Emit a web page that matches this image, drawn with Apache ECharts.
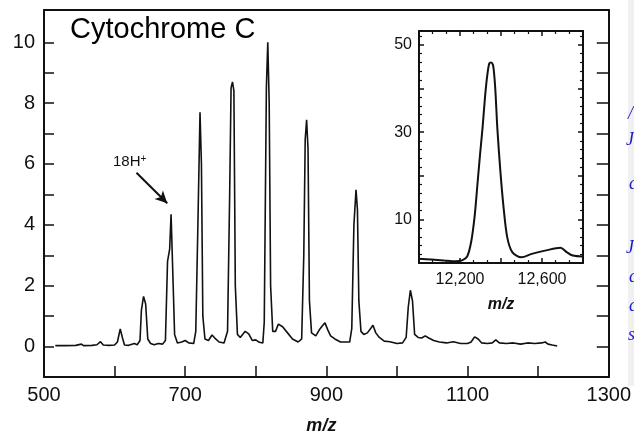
<!DOCTYPE html>
<html lang="en">
<head>
    <meta charset="UTF-8">
    <title>Cytochrome C</title>
    <script src="https://cdn.jsdelivr.net/npm/echarts@6/dist/echarts.min.js"></script>
    <style>
        html, body { margin: 0; padding: 0; background: #fff; }
        #chart { width: 634px; height: 440px; }
    </style>
</head>
<body>
<div id="chart"></div>
<script>
// main spectrum (m/z, relative intensity)
var mz = [516, 530, 545, 553, 556, 568, 575, 580, 584, 592, 600, 604, 608, 611, 614, 620, 628, 632, 636, 638, 641, 644, 647, 651, 656, 662, 668, 672, 675, 678, 680, 683, 685, 689, 695, 700, 705, 712, 715, 718, 721, 723, 725, 728, 733, 738, 742, 748, 755, 760, 763, 765, 767, 769, 771, 774, 778, 785, 790, 795, 800, 805, 810, 812, 815, 817, 819, 821, 824, 828, 832, 838, 845, 852, 860, 865, 868, 870, 872, 874, 876, 879, 885, 890, 895, 898, 902, 906, 912, 920, 928, 933, 936, 939, 942, 944, 946, 949, 953, 958, 963, 966, 970, 975, 982, 990, 1000, 1008, 1013, 1016, 1019, 1022, 1025, 1030, 1035, 1040, 1045, 1052, 1060, 1070, 1080, 1090, 1100, 1105, 1110, 1115, 1120, 1128, 1135, 1140, 1145, 1155, 1165, 1175, 1185, 1195, 1205, 1210, 1214, 1220, 1227];
var intensity = [0.03, 0.03, 0.04, 0.08, 0.03, 0.04, 0.06, 0.16, 0.05, 0.04, 0.05, 0.15, 0.58, 0.3, 0.05, 0.04, 0.1, 0.06, 0.2, 1.2, 1.65, 1.4, 0.25, 0.1, 0.06, 0.1, 0.08, 0.2, 2.8, 3.2, 4.35, 2.0, 0.4, 0.12, 0.15, 0.2, 0.12, 0.1, 0.5, 4.0, 7.7, 6.0, 1.0, 0.25, 0.2, 0.38, 0.28, 0.15, 0.12, 0.5, 5.0, 8.5, 8.7, 8.4, 2.0, 0.4, 0.3, 0.5, 0.42, 0.2, 0.22, 0.14, 0.12, 0.8, 8.5, 10.0, 8.0, 2.0, 0.5, 0.5, 0.74, 0.65, 0.45, 0.25, 0.15, 0.25, 3.0, 6.8, 7.45, 6.5, 1.5, 0.45, 0.35, 0.55, 0.7, 0.78, 0.55, 0.35, 0.25, 0.15, 0.15, 0.15, 0.6, 4.0, 5.15, 4.5, 1.5, 0.5, 0.4, 0.45, 0.6, 0.7, 0.45, 0.3, 0.18, 0.16, 0.1, 0.12, 0.3, 1.3, 1.85, 1.5, 0.4, 0.3, 0.28, 0.35, 0.28, 0.2, 0.15, 0.12, 0.16, 0.1, 0.1, 0.15, 0.32, 0.25, 0.12, 0.1, 0.12, 0.22, 0.12, 0.1, 0.12, 0.08, 0.12, 0.1, 0.12, 0.15, 0.08, 0.05, 0.02];

// inset: deconvoluted mass spectrum
var insetMz = [12000, 12060, 12120, 12180, 12210, 12235, 12255, 12272, 12285, 12298, 12310, 12322, 12333, 12343, 12352, 12362, 12372, 12382, 12397, 12412, 12430, 12455, 12500, 12550, 12620, 12690, 12720, 12750, 12800];
var insetIntensity = [1.0, 0.8, 0.6, 0.4, 0.6, 1.5, 5, 11, 18, 25, 31, 38, 43, 45.8, 46, 45.2, 40, 31, 21, 13, 6, 2.5, 1.3, 2.1, 2.9, 3.5, 2.5, 1.7, 1.5];

var yTicks = [0, 1, 2, 3, 4, 5, 6, 7, 8, 9, 10];
var yLabels = [0, 2, 4, 6, 8, 10];
var xLabels = [500, 700, 900, 1100, 1300];
var insetXLabels = [12200, 12600];
var insetYLabels = [10, 30, 50];

// arrow pointing at the 18H+ peak
var arrowFrom = [631, 5.71];
var arrowTo = [674.6, 4.71];

var FONT = 'Liberation Sans';
var INK = '#111';

var mainData = mz.map(function (m, i) { return [m, intensity[i]]; });
var insetData = insetMz.map(function (m, i) { return [m, insetIntensity[i]]; });

var chart = echarts.init(document.getElementById('chart'));

var frameLine = {onZero: false, lineStyle: {color: INK, width: 2}};

var option = {
    animation: false,
    backgroundColor: '#fff',
    grid: [
        {left: 44, top: 10, width: 566, height: 374},
        {left: 419, top: 31, width: 164, height: 232, backgroundColor: '#fff', show: true, borderWidth: 0}
    ],
    xAxis: [
        {
            gridIndex: 0, type: 'value', min: 500, max: 1300, interval: 100, position: 'bottom',
            axisLine: frameLine,
            axisTick: {inside: true, length: 11, lineStyle: {color: INK, width: 1.5}},
            axisLabel: {
                margin: 8, color: INK, fontFamily: FONT, fontSize: 20,
                formatter: function (v) { return xLabels.indexOf(v) >= 0 ? String(v) : ''; }
            },
            splitLine: {show: false},
            name: 'm/z', nameLocation: 'middle', nameGap: 40,
            nameTextStyle: {fontFamily: FONT, fontSize: 18, fontStyle: 'italic', fontWeight: 'bold', color: INK, padding: [0, 10, 0, 0]}
        },
        {
            gridIndex: 0, type: 'value', min: 500, max: 1300, position: 'top',
            axisLine: frameLine,
            axisTick: {show: false}, axisLabel: {show: false}, splitLine: {show: false}
        },
        {
            gridIndex: 1, type: 'value', min: 12000, max: 12800, interval: 200, position: 'bottom',
            axisLine: frameLine,
            axisTick: {inside: true, length: 5, lineStyle: {color: INK, width: 1.5}},
            minorTick: {show: true, splitNumber: 3, length: 3, lineStyle: {color: INK, width: 1.2}},
            axisLabel: {
                margin: 9, color: INK, fontFamily: FONT, fontSize: 16,
                formatter: function (v) { return insetXLabels.indexOf(v) >= 0 ? v.toLocaleString('en-US') : ''; }
            },
            splitLine: {show: false},
            name: 'm/z', nameLocation: 'middle', nameGap: 34,
            nameTextStyle: {fontFamily: FONT, fontSize: 16, fontStyle: 'italic', fontWeight: 'bold', color: INK}
        },
        {
            gridIndex: 1, type: 'value', min: 12000, max: 12800, interval: 200, position: 'top',
            axisLine: frameLine,
            axisTick: {inside: true, length: 5, lineStyle: {color: INK, width: 1.5}},
            minorTick: {show: true, splitNumber: 3, length: 3, lineStyle: {color: INK, width: 1.2}},
            axisLabel: {show: false}, splitLine: {show: false}
        }
    ],
    yAxis: [
        {
            gridIndex: 0, type: 'value', min: -1, max: 11.06, interval: 1, position: 'left',
            axisLine: {show: true, onZero: false, lineStyle: {color: INK, width: 2}},
            axisTick: {inside: true, length: 10, customValues: yTicks, lineStyle: {color: INK, width: 1.5}},
            axisLabel: {
                margin: 9, color: INK, fontFamily: FONT, fontSize: 20, customValues: yLabels,
                formatter: function (v) { return yLabels.indexOf(v) >= 0 ? String(v) : ''; }
            },
            splitLine: {show: false}
        },
        {
            gridIndex: 0, type: 'value', min: -1, max: 11.06, interval: 1, position: 'right',
            axisLine: {show: true, onZero: false, lineStyle: {color: INK, width: 2}},
            axisTick: {inside: true, length: 12, customValues: yTicks, lineStyle: {color: INK, width: 1.5}},
            axisLabel: {show: false}, splitLine: {show: false}
        },
        {
            gridIndex: 1, type: 'value', min: 0, max: 53.2, interval: 10, position: 'left',
            axisLine: {show: true, onZero: false, lineStyle: {color: INK, width: 2}},
            axisTick: {inside: true, length: 5, lineStyle: {color: INK, width: 1.5}},
            minorTick: {show: true, splitNumber: 5, length: 3, lineStyle: {color: INK, width: 1.2}},
            axisLabel: {
                margin: 7, color: INK, fontFamily: FONT, fontSize: 16,
                formatter: function (v) { return insetYLabels.indexOf(v) >= 0 ? String(v) : ''; }
            },
            splitLine: {show: false}
        },
        {
            gridIndex: 1, type: 'value', min: 0, max: 53.2, interval: 10, position: 'right',
            axisLine: {show: true, onZero: false, lineStyle: {color: INK, width: 2}},
            axisTick: {inside: true, length: 5, lineStyle: {color: INK, width: 1.5}},
            minorTick: {show: true, splitNumber: 5, length: 3, lineStyle: {color: INK, width: 1.2}},
            axisLabel: {show: false}, splitLine: {show: false}
        }
    ],
    series: [
        {
            type: 'line', xAxisIndex: 0, yAxisIndex: 0, data: mainData,
            showSymbol: false, smooth: false,
            lineStyle: {color: INK, width: 1.6},
            markLine: {
                silent: true, symbol: ['none', 'arrow'], symbolSize: [9, 12],
                label: {show: false},
                lineStyle: {color: INK, width: 2, type: 'solid'},
                data: [[{coord: arrowFrom}, {coord: arrowTo}]]
            }
        },
        {
            type: 'line', xAxisIndex: 2, yAxisIndex: 2, data: insetData,
            showSymbol: false, smooth: 0.3,
            lineStyle: {color: INK, width: 2}
        }
    ],
    graphic: [
        {
            type: 'rect', left: 628, top: 0, z: 10,
            shape: {width: 6, height: 386},
            style: {fill: '#f0f0f0'}
        },
        {
            type: 'text', left: 70, top: 15,
            style: {text: 'Cytochrome C', font: '29px "Liberation Sans"', fill: '#000'}
        },
        {
            type: 'text', left: 113, top: 154,
            style: {
                text: '18H{s|+}', font: '15px "Liberation Sans"', fill: INK,
                rich: {s: {fontSize: 10, verticalAlign: 'top', padding: [0, 0, 6, 0]}}
            }
        },
        {type: 'text', left: 628, top: 105, z: 11, style: {text: '/', font: 'italic 18px "Liberation Serif"', fill: '#1c1cc8'}},
        {type: 'text', left: 626, top: 131, z: 11, style: {text: 'J', font: 'italic 18px "Liberation Serif"', fill: '#1c1cc8'}},
        {type: 'text', left: 629, top: 175, z: 11, style: {text: 'c', font: 'italic 18px "Liberation Serif"', fill: '#1c1cc8'}},
        {type: 'text', left: 626, top: 239, z: 11, style: {text: 'J', font: 'italic 18px "Liberation Serif"', fill: '#1c1cc8'}},
        {type: 'text', left: 629, top: 268, z: 11, style: {text: 'c', font: 'italic 18px "Liberation Serif"', fill: '#1c1cc8'}},
        {type: 'text', left: 629, top: 297, z: 11, style: {text: 'c', font: 'italic 18px "Liberation Serif"', fill: '#1c1cc8'}},
        {type: 'text', left: 628, top: 326, z: 11, style: {text: 's', font: 'italic 18px "Liberation Serif"', fill: '#1c1cc8'}}
    ]
};

chart.setOption(option);
</script>
</body>
</html>
